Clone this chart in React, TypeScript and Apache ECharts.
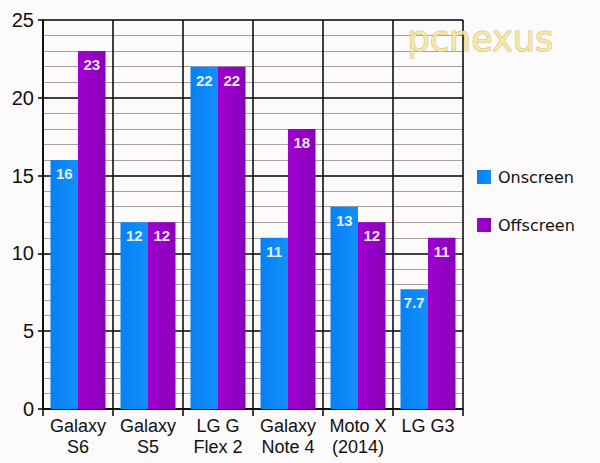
import React, { useEffect, useRef } from "react";
import * as echarts from "echarts";

const categories = ["Galaxy\nS6", "Galaxy\nS5", "LG G\nFlex 2", "Galaxy\nNote 4", "Moto X\n(2014)", "LG G3"];
const onscreen = [16, 12, 22, 11, 13, 7.7];
const offscreen = [23, 12, 22, 18, 12, 11];
const seriesNames = ["Onscreen", "Offscreen"];

export default function App() {
  const ref = useRef<HTMLDivElement>(null);
  useEffect(() => {
    const chart = echarts.init(ref.current!, null, { renderer: "svg" });
    const font = "'Liberation Sans', Arial, sans-serif";
    chart.setOption({
      animation: false,
      backgroundColor: "#fcfafa",
      grid: { left: 43, right: 137, top: 20, bottom: 54, containLabel: false },
      legend: {
        orient: "vertical",
        left: 472,
        top: 164,
        itemWidth: 14,
        itemHeight: 14,
        itemGap: 32,
        icon: "rect",
        textStyle: { fontFamily: "'DejaVu Sans', Verdana, sans-serif", fontSize: 16, color: "#111", padding: [0, 0, 0, 2] },
        data: seriesNames,
      },
      xAxis: {
        type: "category",
        data: categories,
        axisLine: { show: true, lineStyle: { color: "#000", width: 1.5 } },
        axisTick: { show: true, length: 7, alignWithLabel: false, lineStyle: { color: "#000", width: 1.5 } },
        splitLine: { show: true, lineStyle: { color: "#000", width: 1.5 } },
        axisLabel: { fontFamily: font, fontSize: 18, color: "#111", lineHeight: 21, margin: 6, interval: 0 },
      },
      yAxis: {
        type: "value",
        min: 0,
        max: 25,
        interval: 5,
        axisLine: { show: true, lineStyle: { color: "#000", width: 1.5 } },
        axisTick: { show: true, length: 5, lineStyle: { color: "#000", width: 1.5 } },
        splitLine: { show: true, lineStyle: { color: "#000", width: 1.5 } },
        minorTick: { show: false, splitNumber: 5 },
        minorSplitLine: { show: true, lineStyle: { color: "#aaa098", width: 1 } },
        axisLabel: { fontFamily: font, fontSize: 20, color: "#111", margin: 9 },
      },
      graphic: [
        {
          type: "text",
          left: 407,
          top: 21,
          z: 100,
          style: {
            text: "pcnexus",
            fontFamily: "'DejaVu Sans', Verdana, sans-serif",
            fontSize: 35,
            fill: "rgba(246,230,160,0.9)",
            stroke: "rgba(200,175,90,0.8)",
            lineWidth: 1,
          },
        },
      ],
      series: [
        {
          name: seriesNames[0],
          type: "bar",
          data: onscreen,
          barWidth: 27.5,
          barGap: "0%",
          itemStyle: {
            color: new echarts.graphic.LinearGradient(0, 0, 1, 0, [
              { offset: 0, color: "#0880f2" },
              { offset: 1, color: "#1290ff" },
            ]),
          },
          label: {
            show: true,
            position: "insideTop",
            distance: 6,
            fontFamily: font,
            fontWeight: "bold",
            fontSize: 15,
            color: "#e4f0ff",
          },
        },
        {
          name: seriesNames[1],
          type: "bar",
          data: offscreen,
          barWidth: 27.5,
          barGap: "0%",
          itemStyle: {
            color: new echarts.graphic.LinearGradient(0, 0, 1, 0, [
              { offset: 0, color: "#a000d0" },
              { offset: 1, color: "#8a00b8" },
            ]),
          },
          label: {
            show: true,
            position: "insideTop",
            distance: 6,
            fontFamily: font,
            fontWeight: "bold",
            fontSize: 15,
            color: "#fbe4ff",
          },
        },
      ],
    });
    return () => chart.dispose();
  }, []);
  return <div ref={ref} style={{ width: 600, height: 463, position: "absolute", left: 0, top: 0 }} />;
}
